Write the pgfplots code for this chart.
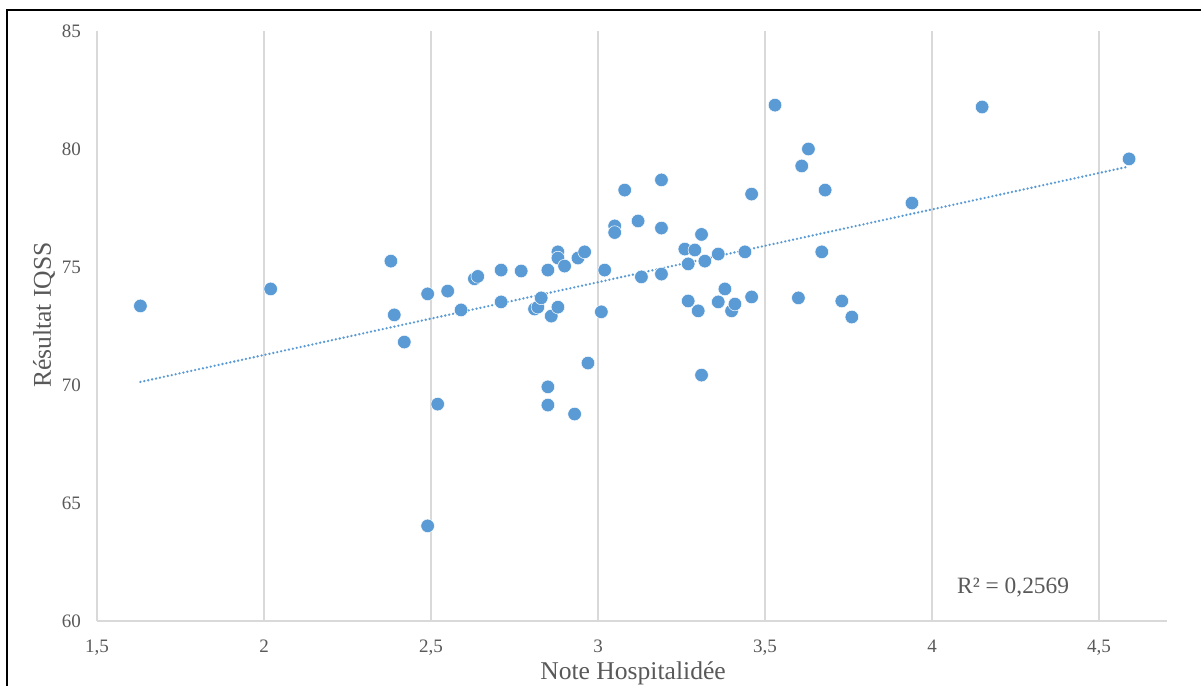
\documentclass[border=0pt]{standalone}
\usepackage{fontspec}
\setmainfont{Liberation Serif}
\usepackage{pgfplots}
\pgfplotsset{compat=1.18}
\definecolor{xblue}{HTML}{5B9BD5}
\definecolor{txtgray}{HTML}{595959}
\definecolor{gridgray}{HTML}{D9D9D9}
\pgfplotstableread{
x y
1.63 73.35
2.02 74.07
2.38 75.25
2.39 72.97
2.42 71.82
2.49 73.86
2.49 64.03
2.52 69.19
2.55 73.98
2.59 73.18
2.63 74.50
2.64 74.60
2.71 74.87
2.71 73.52
2.77 74.83
2.81 73.22
2.82 73.30
2.83 73.69
2.85 74.87
2.85 69.92
2.85 69.15
2.86 72.92
2.88 75.64
2.88 75.38
2.88 73.30
2.90 75.04
2.93 68.77
2.94 75.38
2.96 75.64
2.97 70.93
3.01 73.10
3.02 74.87
3.05 76.74
3.05 76.46
3.08 78.26
3.12 76.95
3.13 74.58
3.19 78.69
3.19 76.65
3.19 74.70
3.26 75.76
3.27 73.56
3.27 75.13
3.29 75.72
3.30 73.14
3.31 76.38
3.31 70.42
3.32 75.25
3.36 75.55
3.36 73.52
3.38 74.07
3.40 73.14
3.41 73.43
3.44 75.64
3.46 73.73
3.46 78.09
3.53 81.86
3.60 73.69
3.61 79.28
3.63 80.00
3.67 75.64
3.68 78.26
3.73 73.56
3.76 72.88
3.94 77.71
4.15 81.78
4.59 79.58
}\scatterdata
\pgfplotstableread{
x y
1.63 70.13
4.59 79.26
}\trenddata
\begin{document}
\begin{tikzpicture}
\path[use as bounding box] (0,0) rectangle (600.5pt,343pt);
\draw[black, line width=1pt] (3.5pt,-5pt) -- (3.5pt,338pt) -- (610pt,338pt);
\begin{axis}[
  at={(48.5pt,32.5pt)}, anchor=south west,
  scale only axis, width=535pt, height=295pt,
  xmin=1.5, xmax=4.7036, ymin=60, ymax=85,
  xtick={1.5,2,2.5,3,3.5,4,4.5},
  ytick={60,65,70,75,80,85},
  axis x line*=bottom, axis y line*=left,
  axis line style={gridgray, line width=0.75pt, -},
  xmajorgrids, major grid style={gridgray, line width=0.75pt},
  major tick length=0pt,
  /pgf/number format/use comma,
  /pgf/number format/assume math mode=true,
  tick label style={font=\fontsize{9.5}{11}\selectfont, text=txtgray},
  xticklabel style={yshift=-6pt},
  yticklabel style={xshift=-4.5pt},
  xlabel={Note Hospitalidée},
  ylabel={Résultat IQSS},
  label style={font=\fontsize{12.8}{15}\selectfont, text=txtgray},
  xlabel style={at={(axis description cs:0.501,-0.099)}, anchor=base},
  ylabel style={at={(axis description cs:-0.0495,0.5186)}, anchor=center},
  clip=false,
]
\addplot[only marks, mark=*, mark size=3.4pt,
  mark options={fill=xblue, draw=white, line width=0.25pt}] table[x=x,y=y] {\scatterdata};
\addplot[xblue, line width=1.3pt, line cap=round, dash pattern=on 0pt off 2pt] table[x=x,y=y] {\trenddata};
\node[font=\fontsize{11.7}{14}\selectfont, text=txtgray] at (axis cs:4.243,61.4) {R² = 0,2569};
\end{axis}
\end{tikzpicture}
\end{document}
